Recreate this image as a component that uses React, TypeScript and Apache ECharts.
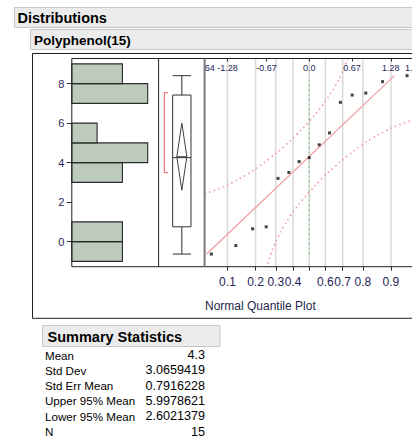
import React, { useEffect, useRef } from "react";
import * as echarts from "echarts";

// Polyphenol observations, sorted ascending (n = 15)
const polyphenol = [-0.63, -0.2, 0.65, 0.75, 3.2, 3.5, 4.05, 4.25, 4.9, 5.5, 7.05, 7.42, 7.52, 8.1, 8.4];

// Histogram: lower edge of each unit-wide bin and its count
const binLower = [-1, 0, 1, 2, 3, 4, 5, 6, 7, 8];
const binCounts = [2, 2, 0, 0, 2, 3, 1, 0, 3, 2];

// Outlier box plot: min, Q1, median, Q3, max
const boxValues = [-0.63, 0.75, 4.25, 7.42, 8.4];
// Shortest half bracket: low, high
const shortestHalf = [3.49, 7.54];

// Summary statistics table
const statLabels = ["Mean", "Std Dev", "Std Err Mean", "Upper 95% Mean", "Lower 95% Mean", "N"];
const statValues = ["4.3", "3.0659419", "0.7916228", "5.9978621", "2.6021379", "15"];

// Confidence bands of the normal quantile plot: [normal quantile, value]
const upperBand = [
  [-1.64, 2.42], [-1.4, 2.7], [-1.2, 2.99], [-1.0, 3.35], [-0.8, 3.78], [-0.6, 4.26],
  [-0.4, 4.8], [-0.2, 5.41], [0, 6.09], [0.2, 6.87], [0.4, 7.83], [0.5, 8.44], [0.6, 9.22], [0.62, 9.4],
];
const lowerBand = [
  [-0.665, -1.35], [-0.63, -0.92], [-0.6, -0.62], [-0.55, -0.2], [-0.5, 0.16], [-0.4, 0.77],
  [-0.3, 1.28], [-0.2, 1.73], [-0.1, 2.14], [0, 2.51], [0.2, 3.2], [0.4, 3.8], [0.6, 4.34],
  [0.8, 4.83], [1.0, 5.25], [1.2, 5.61], [1.4, 5.9], [1.64, 6.17],
];

// Axis ticks
const valueTicks = [0, 2, 4, 6, 8];
const topTicks = [-1.64, -1.28, -0.67, 0, 0.67, 1.28, 1.64];
const topTickLabels = ["-1.64", "-1.28", "-0.67", "0.0", "0.67", "1.28", "1.64"];
const probTicks = [0.1, 0.2, 0.3, 0.4, 0.5, 0.6, 0.7, 0.8, 0.9];
const probLabels = ["0.1", "0.2", "0.3", "0.4", "0.6", "0.7", "0.8", "0.9"];

const Y_MIN = -1.27;
const Y_MAX = 9.27;
const Z_MIN = -1.64;
const Z_MAX = 1.64;

const FONT = "'Liberation Sans', Arial, sans-serif";
const AXIS_TEXT = "#1f2458";

// Inverse of the standard normal CDF (Acklam's rational approximation)
function probit(p: number): number {
  const a = [-39.69683028665376, 220.9460984245205, -275.9285104469687, 138.357751867269, -30.66479806614716, 2.506628277459239];
  const b = [-54.47609879822406, 161.5858368580409, -155.6989798598866, 66.80131188771972, -13.28068155288572];
  const c = [-0.007784894002430293, -0.3223964580411365, -2.400758277161838, -2.549732539343734, 4.374664141464968, 2.938163982698783];
  const d = [0.007784695709041462, 0.3224671290700398, 2.445134137142996, 3.754408661907416];
  const pl = 0.02425;
  if (p < pl) {
    const q = Math.sqrt(-2 * Math.log(p));
    return (((((c[0] * q + c[1]) * q + c[2]) * q + c[3]) * q + c[4]) * q + c[5]) / ((((d[0] * q + d[1]) * q + d[2]) * q + d[3]) * q + 1);
  }
  if (p > 1 - pl) {
    const q = Math.sqrt(-2 * Math.log(1 - p));
    return -(((((c[0] * q + c[1]) * q + c[2]) * q + c[3]) * q + c[4]) * q + c[5]) / ((((d[0] * q + d[1]) * q + d[2]) * q + d[3]) * q + 1);
  }
  const q = p - 0.5;
  const r = q * q;
  return ((((((a[0] * r + a[1]) * r + a[2]) * r + a[3]) * r + a[4]) * r + a[5]) * q) / (((((b[0] * r + b[1]) * r + b[2]) * r + b[3]) * r + b[4]) * r + 1);
}

function nearestLabel(v: number, values: number[], labels: string[]): string {
  let best = 0;
  for (let i = 1; i < values.length; i++) {
    if (Math.abs(values[i] - v) < Math.abs(values[best] - v)) best = i;
  }
  return Math.abs(values[best] - v) < 1e-3 ? labels[best] : "";
}

function buildOption() {
  const mean = parseFloat(statValues[0]);
  const sd = parseFloat(statValues[1]);
  const ciHigh = parseFloat(statValues[3]);
  const ciLow = parseFloat(statValues[4]);
  const n = polyphenol.length;

  const qqPoints = polyphenol.map((v, i) => [probit((i + 1) / (n + 1)), v]);
  const dataMin = polyphenol[0];
  const dataMax = polyphenol[n - 1];
  const fitLine = [
    [(dataMin - mean) / sd, dataMin],
    [(dataMax - mean) / sd, dataMax],
  ];

  const probZ = probTicks.map(probit);
  const probLabelZ = probLabels.map((s) => probit(parseFloat(s)));

  const plotTop = 58.5;
  const plotBottom = 266.7;
  const histLeft = 71.8;
  const boxLeft = 158.6;
  const qqLeft = 204.6;
  const qqWidth = 209.2;
  const plotH = plotBottom - plotTop;

  const histBars = binLower
    .map((lo, i) => [lo, lo + 1, binCounts[i]])
    .filter((b) => b[2] > 0);

  const frameStroke = "#202020";
  const hline = (x1: number, x2: number, y: number, stroke = frameStroke, w = 1) => ({
    type: "line",
    z: 101,
    silent: true,
    shape: { x1, y1: y, x2, y2: y },
    style: { stroke, lineWidth: w },
  });
  const vline = (x: number, y1: number, y2: number, stroke = frameStroke, w = 1) => ({
    type: "line",
    z: 101,
    silent: true,
    shape: { x1: x, y1, x2: x, y2 },
    style: { stroke, lineWidth: w },
  });

  const rowTop = 355;
  const rowGap = 15.3;
  const statTexts: any[] = [];
  statLabels.forEach((label, i) => {
    statTexts.push({
      type: "text",
      z: 101,
      x: 45,
      y: rowTop + i * rowGap,
      style: { text: label, font: `11.6px ${FONT}`, fill: "#000", verticalAlign: "middle", align: "left" },
    });
    statTexts.push({
      type: "text",
      z: 101,
      x: 205,
      y: rowTop + i * rowGap,
      style: { text: statValues[i], font: `12.6px ${FONT}`, fill: "#000", verticalAlign: "middle", align: "right" },
    });
  });

  return {
    animation: false,
    backgroundColor: "#ffffff",
    grid: [
      { left: histLeft, top: plotTop, width: boxLeft - histLeft, height: plotH },
      { left: boxLeft, top: plotTop, width: qqLeft - boxLeft, height: plotH },
      { left: qqLeft, top: plotTop, width: qqWidth, height: plotH },
    ],
    xAxis: [
      { gridIndex: 0, type: "value", min: 0, max: 3.43, show: false, axisLine: { onZero: false } },
      { gridIndex: 1, type: "value", min: 0, max: 1, show: false, axisLine: { onZero: false } },
      {
        gridIndex: 2,
        type: "value",
        min: Z_MIN,
        max: Z_MAX,
        position: "bottom",
        z: 10,
        axisLine: { show: false, onZero: false },
        splitLine: { show: false },
        axisTick: { show: true, length: 4, customValues: probZ, lineStyle: { color: "#303030", width: 1 } },
        axisLabel: {
          show: true,
          customValues: probLabelZ,
          hideOverlap: false,
          margin: 9,
          fontSize: 12,
          fontFamily: FONT,
          color: AXIS_TEXT,
          formatter: (v: number) => nearestLabel(v, probLabelZ, probLabels),
        },
      },
      {
        gridIndex: 2,
        type: "value",
        min: Z_MIN,
        max: Z_MAX,
        position: "top",
        z: 10,
        axisLine: { show: false, onZero: false },
        splitLine: { show: false },
        axisTick: { show: true, inside: true, length: 3, customValues: topTicks, lineStyle: { color: "#303030", width: 1 } },
        axisLabel: {
          show: true,
          inside: true,
          customValues: topTicks,
          hideOverlap: false,
          margin: 5,
          fontSize: 9,
          fontFamily: FONT,
          color: AXIS_TEXT,
          formatter: (v: number) => nearestLabel(v, topTicks, topTickLabels),
        },
      },
    ],
    yAxis: [
      {
        gridIndex: 0,
        type: "value",
        min: Y_MIN,
        max: Y_MAX,
        axisLine: { show: false, onZero: false },
        splitLine: { show: false },
        axisTick: { show: true, length: 5, customValues: valueTicks, lineStyle: { color: "#303030", width: 1 } },
        axisLabel: {
          show: true,
          customValues: valueTicks,
          margin: 7.5,
          fontSize: 11,
          fontFamily: FONT,
          color: AXIS_TEXT,
        },
      },
      { gridIndex: 1, type: "value", min: Y_MIN, max: Y_MAX, show: false, axisLine: { onZero: false } },
      { gridIndex: 2, type: "value", min: Y_MIN, max: Y_MAX, show: false, axisLine: { onZero: false } },
    ],
    series: [
      // histogram bars
      {
        type: "custom",
        xAxisIndex: 0,
        yAxisIndex: 0,
        data: histBars,
        encode: { x: 2, y: [0, 1] },
        renderItem: (_p: any, api: any) => {
          const a = api.coord([0, api.value(1)]);
          const b = api.coord([api.value(2), api.value(0)]);
          return {
            type: "rect",
            shape: { x: a[0], y: a[1], width: b[0] - a[0], height: b[1] - a[1] },
            style: { fill: "#bccbbb", stroke: "#2a2a2a", lineWidth: 1.1 },
          };
        },
      },
      // outlier box plot, mean diamond and shortest half bracket
      {
        type: "custom",
        xAxisIndex: 1,
        yAxisIndex: 1,
        data: [[0.5, boxValues[2]]],
        renderItem: (_p: any, api: any) => {
          const [mn, q1, med, q3, mx] = boxValues;
          const cx = 0.505;
          const half = 0.199;
          const dHalf = 0.109;
          const pt = (x: number, y: number) => api.coord([x, y]);
          const stroke = "#303030";
          const ln = (p1: number[], p2: number[], s = stroke) => ({
            type: "line",
            shape: { x1: p1[0], y1: p1[1], x2: p2[0], y2: p2[1] },
            style: { stroke: s, lineWidth: 1 },
          });
          const tl = pt(cx - half, q3);
          const br = pt(cx + half, q1);
          const bx = 0.124;
          const bx2 = 0.204;
          return {
            type: "group",
            children: [
              ln(pt(cx, q3), pt(cx, mx)),
              ln(pt(cx - half, mx), pt(cx + half, mx)),
              ln(pt(cx, q1), pt(cx, mn)),
              ln(pt(cx - half, mn), pt(cx + half, mn)),
              {
                type: "rect",
                shape: { x: tl[0], y: tl[1], width: br[0] - tl[0], height: br[1] - tl[1] },
                style: { fill: "#ffffff", stroke, lineWidth: 1 },
              },
              ln(pt(cx - half, med), pt(cx + half, med)),
              {
                type: "polygon",
                shape: {
                  points: [pt(cx, ciHigh), pt(cx + dHalf, mean), pt(cx, ciLow), pt(cx - dHalf, mean)],
                },
                style: { fill: "none", stroke: "#404040", lineWidth: 1 },
              },
              ln(pt(cx - dHalf, mean), pt(cx + dHalf, mean), "#404040"),
              {
                type: "polyline",
                shape: {
                  points: [pt(bx2, shortestHalf[1]), pt(bx, shortestHalf[1]), pt(bx, shortestHalf[0]), pt(bx2, shortestHalf[0])],
                },
                style: { fill: "none", stroke: "#ee5a5a", lineWidth: 1 },
              },
            ],
          };
        },
      },
      // probability grid lines
      {
        type: "custom",
        xAxisIndex: 2,
        yAxisIndex: 2,
        data: probZ.map((z) => [z]),
        encode: { x: 0 },
        renderItem: (_p: any, api: any) => {
          const a = api.coord([api.value(0), Y_MAX]);
          const b = api.coord([api.value(0), Y_MIN]);
          return {
            type: "line",
            shape: { x1: a[0], y1: a[1], x2: b[0], y2: b[1] },
            style: { stroke: "#d9d9d9", lineWidth: 1.5 },
          };
        },
      },
      // reference line at the median quantile
      {
        type: "line",
        xAxisIndex: 2,
        yAxisIndex: 2,
        data: [
          [0, dataMin],
          [0, dataMax],
        ],
        showSymbol: false,
        lineStyle: { color: "#8fcf8f", width: 1.6, type: [1.6, 3.2] },
      },
      // confidence bands
      {
        type: "line",
        xAxisIndex: 2,
        yAxisIndex: 2,
        data: upperBand,
        smooth: 0.4,
        showSymbol: false,
        lineStyle: { color: "#f2a0a0", width: 1.6, type: [1.6, 3.2] },
      },
      {
        type: "line",
        xAxisIndex: 2,
        yAxisIndex: 2,
        data: lowerBand,
        smooth: 0.4,
        showSymbol: false,
        lineStyle: { color: "#f2a0a0", width: 1.6, type: [1.6, 3.2] },
      },
      // normal fit line
      {
        type: "line",
        xAxisIndex: 2,
        yAxisIndex: 2,
        data: fitLine,
        showSymbol: false,
        lineStyle: { color: "#f49a9a", width: 1.2 },
      },
      // ordered observations
      {
        type: "scatter",
        xAxisIndex: 2,
        yAxisIndex: 2,
        data: qqPoints,
        symbol: "rect",
        symbolSize: 3,
        itemStyle: { color: "#151515" },
        z: 5,
      },
    ],
    graphic: [
      // report headers
      {
        type: "rect",
        z: 100,
        shape: { x: 14.5, y: 7.5, width: 440, height: 20 },
        style: { fill: "#ececec", stroke: "#c6c6c6", lineWidth: 1 },
      },
      {
        type: "text",
        z: 101,
        x: 17.5,
        y: 18,
        style: { text: "Distributions", font: `bold 14.5px ${FONT}`, fill: "#000", verticalAlign: "middle" },
      },
      {
        type: "rect",
        z: 100,
        shape: { x: 30.5, y: 29.5, width: 430, height: 20 },
        style: { fill: "#ececec", stroke: "#c6c6c6", lineWidth: 1 },
      },
      {
        type: "text",
        z: 101,
        x: 34,
        y: 40,
        style: { text: "Polyphenol(15)", font: `bold 13.5px ${FONT}`, fill: "#000", verticalAlign: "middle" },
      },
      // outer report frame
      hline(32.5, 460, 53.5),
      vline(32.5, 53.5, 318.3),
      hline(32.5, 460, 318.3),
      // mask for the clipped left quantile label
      {
        type: "rect",
        z: 100,
        silent: true,
        shape: { x: 159.6, y: 59.5, width: 44.5, height: 15 },
        style: { fill: "#ffffff" },
      },
      // plot frame and panel dividers
      hline(histLeft, 460, plotTop),
      hline(histLeft, 460, plotBottom),
      vline(histLeft, plotTop, plotBottom),
      vline(boxLeft, plotTop, plotBottom),
      vline(qqLeft, plotTop, plotBottom, "#7a7a7a", 2),
      {
        type: "text",
        z: 101,
        x: 205,
        y: 306,
        style: { text: "Normal Quantile Plot", font: `12px ${FONT}`, fill: "#262848", verticalAlign: "middle" },
      },
      // summary statistics table
      {
        type: "rect",
        z: 100,
        shape: { x: 42.5, y: 325.5, width: 177.5, height: 21 },
        style: { fill: "#ececec", stroke: "#c6c6c6", lineWidth: 1 },
      },
      {
        type: "text",
        z: 101,
        x: 47.5,
        y: 336.5,
        style: { text: "Summary Statistics", font: `bold 14.5px ${FONT}`, fill: "#000", verticalAlign: "middle" },
      },
      ...statTexts,
    ],
  };
}

export default function App() {
  const ref = useRef<HTMLDivElement>(null);
  useEffect(() => {
    if (!ref.current) return;
    const chart = echarts.init(ref.current, undefined, { renderer: "svg" });
    chart.setOption(buildOption() as any);
    return () => chart.dispose();
  }, []);
  return (
    <div style={{ position: "absolute", left: 0, top: 0, width: 412, height: 437, overflow: "hidden", background: "#fff" }}>
      <div ref={ref} style={{ width: 440, height: 437 }} />
    </div>
  );
}
